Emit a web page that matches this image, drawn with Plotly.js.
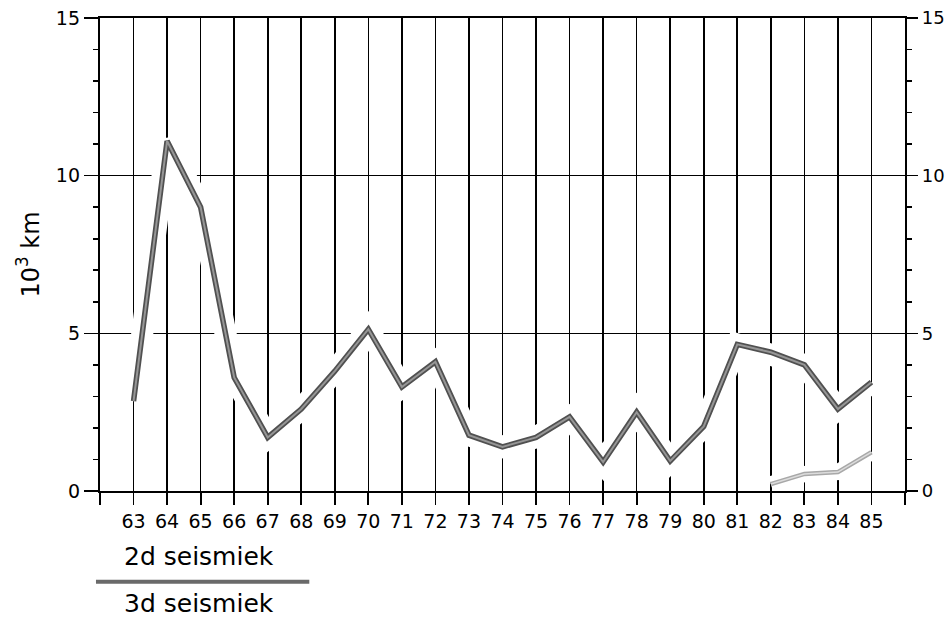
<!DOCTYPE html>
<html>
<head>
<meta charset="utf-8">
<script src="https://cdn.plot.ly/plotly-3.0.1.min.js"></script>
<style>html,body{margin:0;padding:0;background:#fff;}#chart{width:945px;height:619px;}</style>
</head>
<body>
<div id="chart"></div>
<script>
// Data (units: 10^3 km)
const years = [63,64,65,66,67,68,69,70,71,72,73,74,75,76,77,78,79,80,81,82,83,84,85];
const seismiek2d = [2.85,11.1,9.0,3.6,1.7,2.6,3.8,5.13,3.3,4.1,1.77,1.4,1.7,2.35,0.92,2.5,0.95,2.05,4.65,4.4,4.0,2.6,3.45];
const years3d = [82,83,84,85];
const seismiek3d = [0.22,0.54,0.6,1.23];
const xTickVals = years;
const xTickText = years.map(String);
const yTickVals = [0,5,10,15];
const legendLabels = ['2d seismiek', '3d seismiek'];
const yTitle = '10<sup>3</sup> km';

const FONT = 'DejaVu Sans, sans-serif';

const traces = [
  // white halos that interrupt the grid around the lines
  {x: years, y: seismiek2d, mode: 'lines', line: {color: '#ffffff', width: 22}, hoverinfo: 'skip', showlegend: false},
  {x: years3d, y: seismiek3d, mode: 'lines', line: {color: '#ffffff', width: 16}, hoverinfo: 'skip', showlegend: false, yaxis: 'y2'},
  // 2d seismiek: dark outline with grey core
  {x: years, y: seismiek2d, mode: 'lines', name: legendLabels[0], line: {color: '#505050', width: 5.5}, showlegend: false},
  {x: years, y: seismiek2d, mode: 'lines', line: {color: '#969696', width: 2}, hoverinfo: 'skip', showlegend: false},
  // 3d seismiek: light grey
  {x: years3d, y: seismiek3d, mode: 'lines', name: legendLabels[1], line: {color: '#a8a8a8', width: 4.5}, showlegend: false, yaxis: 'y2'},
  {x: years3d, y: seismiek3d, mode: 'lines', line: {color: '#dcdcdc', width: 1.5}, hoverinfo: 'skip', showlegend: false, yaxis: 'y2'}
];

const layout = {
  width: 945, height: 619,
  margin: {l: 100, r: 40, t: 18, b: 128},
  paper_bgcolor: '#ffffff', plot_bgcolor: '#ffffff',
  font: {family: FONT, color: '#000', size: 18},
  showlegend: false,
  xaxis: {
    range: [62, 86], tickmode: 'array', tickvals: xTickVals, ticktext: xTickText,
    showgrid: true, gridcolor: '#000', gridwidth: 1.6,
    showline: true, linecolor: '#000', linewidth: 2.2, mirror: true,
    ticks: 'outside', ticklen: 12, tickwidth: 1.8, tickcolor: '#000',
    minor: {dtick: 1, tick0: 62, ticks: 'outside', ticklen: 12, tickwidth: 1.8, tickcolor: '#000', showgrid: false},
    tickfont: {family: FONT, size: 19, color: '#000'},
    zeroline: false, fixedrange: true
  },
  yaxis: {
    range: [0, 15], tickmode: 'array', tickvals: yTickVals,
    showgrid: true, gridcolor: '#000', gridwidth: 1.6,
    showline: true, linecolor: '#000', linewidth: 2.2,
    ticks: 'outside', ticklen: 14, tickwidth: 1.6, tickcolor: '#000',
    minor: {dtick: 1, ticks: 'outside', ticklen: 5, tickwidth: 1.6, tickcolor: '#000', showgrid: false},
    tickfont: {family: FONT, size: 19, color: '#000'},
    title: {text: yTitle, font: {family: FONT, size: 24, color: '#000'}, standoff: 10},
    zeroline: false, fixedrange: true
  },
  yaxis2: {
    range: [0, 15], overlaying: 'y', side: 'right', tickmode: 'array', tickvals: yTickVals,
    showgrid: false, showline: true, linecolor: '#000', linewidth: 2.2,
    ticks: 'outside', ticklen: 11, tickwidth: 1.6, tickcolor: '#000',
    minor: {dtick: 1, ticks: 'outside', ticklen: 5, tickwidth: 1.6, tickcolor: '#000', showgrid: false},
    tickfont: {family: FONT, size: 18, color: '#000'},
    zeroline: false, fixedrange: true
  },
  shapes: [
    {type: 'line', xref: 'paper', yref: 'paper', x0: -0.005, x1: 0.26, y0: -0.192, y1: -0.192,
     line: {color: '#6a6a6a', width: 4}}
  ],
  annotations: [
    {xref: 'paper', yref: 'paper', x: 0.027, y: -0.174, xanchor: 'left', yanchor: 'bottom', showarrow: false,
     text: legendLabels[0], font: {family: FONT, size: 25, color: '#000'}},
    {xref: 'paper', yref: 'paper', x: 0.027, y: -0.204, xanchor: 'left', yanchor: 'top', showarrow: false,
     text: legendLabels[1], font: {family: FONT, size: 25, color: '#000'}}
  ]
};

Plotly.newPlot('chart', traces, layout, {displayModeBar: false, staticPlot: true});
</script>
</body>
</html>
